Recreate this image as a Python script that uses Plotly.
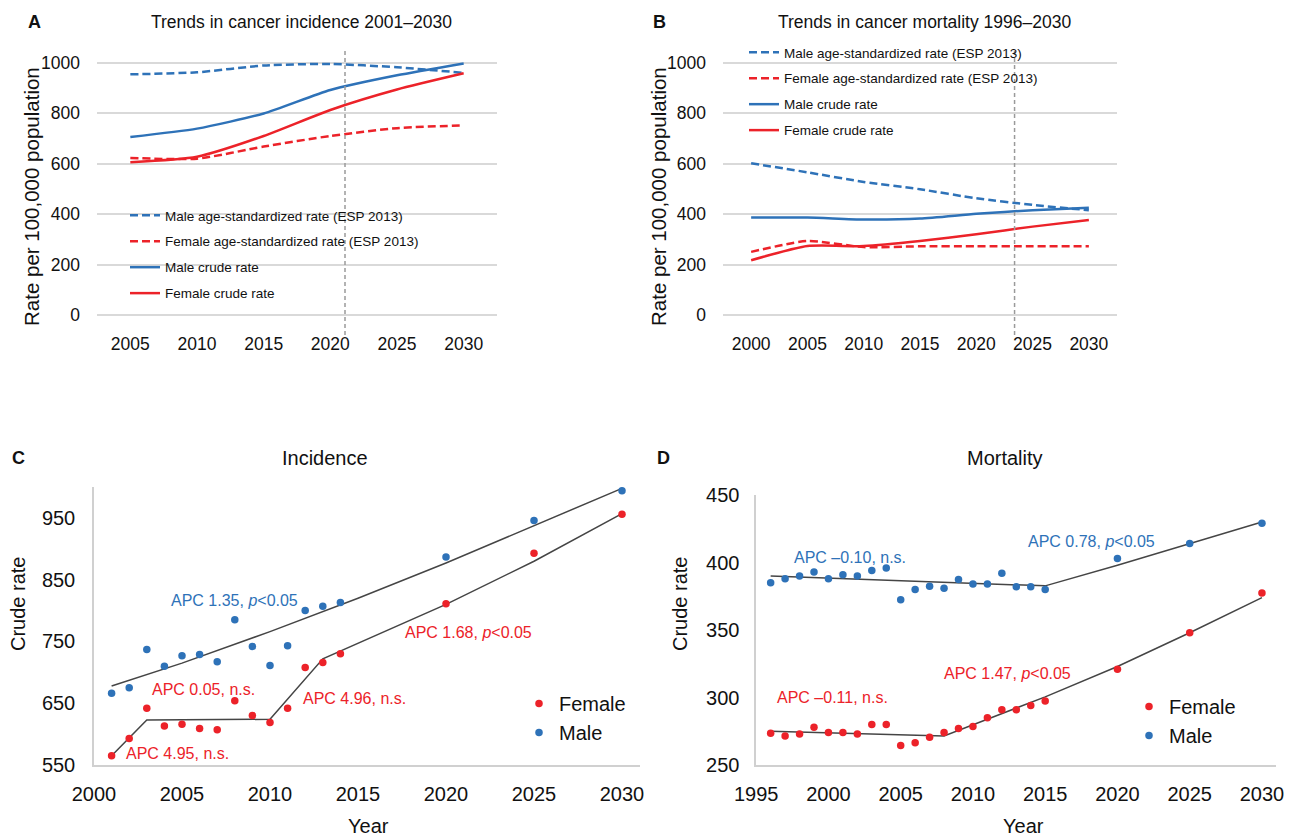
import plotly.graph_objects as go

# ---------------- Data ----------------
# Panel A: trends in cancer incidence (rate per 100,000)
years_a = [2005, 2010, 2015, 2020, 2025, 2030]
a_male_asr = [954, 962, 989, 995, 982, 960]
a_female_asr = [623, 620, 668, 710, 741, 752]
a_male_crude = [706, 739, 799, 892, 950, 997]
a_female_crude = [606, 628, 710, 813, 894, 958]
a_projection_year = 2021.1

# Panel B: trends in cancer mortality (rate per 100,000)
years_b = [2000, 2005, 2010, 2015, 2020, 2025, 2030]
b_male_asr = [602, 566, 528, 499, 463, 437, 416]
b_female_asr = [251, 294, 270, 273, 273, 273, 273]
b_male_crude = [387, 387, 379, 383, 402, 416, 426]
b_female_crude = [218, 274, 274, 294, 321, 351, 377]
b_projection_year = 2023.4

# Panel C: incidence crude rates
years_c = [2001, 2002, 2003, 2004, 2005, 2006, 2007, 2008, 2009, 2010,
           2011, 2012, 2013, 2014, 2020, 2025, 2030]
c_male = [666, 675, 737, 710, 727, 729, 717, 785, 742, 711,
          743, 800, 807, 813, 887, 946, 994]
c_female = [565, 593, 642, 613, 616, 609, 607, 654, 630, 619,
            642, 708, 716, 730, 811, 893, 956]
c_fit_male_years = [2001, 2005, 2010, 2015, 2020, 2025, 2030]
c_fit_male = [678, 715, 766, 820, 877, 938, 998]
c_fit_female_years = [2001, 2003, 2010, 2013, 2020, 2025, 2030]
c_fit_female = [565, 623, 624, 722, 810, 880, 957]

# Panel D: mortality crude rates
years_d = [1996, 1997, 1998, 1999, 2000, 2001, 2002, 2003, 2004, 2005,
           2006, 2007, 2008, 2009, 2010, 2011, 2012, 2013, 2014, 2015,
           2020, 2025, 2030]
d_male = [385, 388, 390, 393, 388, 391, 390, 394, 396, 372.5,
          380, 382.5, 381, 387.5, 384, 384, 392, 382, 382, 380,
          403, 414, 429]
d_female = [273.5, 271.5, 273, 278, 274, 274, 273, 280, 280, 264.5,
            266.5, 270.5, 274, 277, 278.5, 285, 291, 291, 294, 297.5,
            321, 348, 377.5]
d_fit_male_years = [1996, 2005, 2015, 2020, 2025, 2030]
d_fit_male = [390, 386.5, 382.7, 398, 414, 430]
d_fit_female_years = [1996, 2008, 2015, 2020, 2025, 2030]
d_fit_female = [275, 271.5, 300.5, 323, 348, 374]

# Annotations (text, x, y) in data units
c_apc = [
    ("APC 1.35, <i>p</i>&lt;0.05", 2008.0, 817, "male"),
    ("APC 0.05, n.s.", 2006.2, 673, "female"),
    ("APC 4.95, n.s.", 2004.75, 569, "female"),
    ("APC 4.96, n.s.", 2014.8, 658, "female"),
    ("APC 1.68, <i>p</i>&lt;0.05", 2021.3, 765, "female"),
]
d_apc = [
    ("APC \u20130.10, n.s.", 2001.5, 404, "male"),
    ("APC 0.78, <i>p</i>&lt;0.05", 2018.2, 415.5, "male"),
    ("APC \u20130.11, n.s.", 2000.25, 300, "female"),
    ("APC 1.47, <i>p</i>&lt;0.05", 2012.4, 318, "female"),
]

# ---------------- Style ----------------
BLUE = "#2E72B8"
RED = "#EC2229"
FIT = "#454545"
GRID = "#d9d9d9"
ARIAL = "Liberation Sans, Arial, sans-serif"
DASH = "8px,4px"
W, H = 1290, 837

fig = go.Figure()

def add_trend(x, y, color, dash, name, xa, ya, legend, group):
    fig.add_trace(go.Scatter(
        x=x, y=y, mode="lines", name=name,
        line=dict(color=color, width=2.5, dash=dash, shape="spline", smoothing=0.6),
        xaxis=xa, yaxis=ya, legend=legend, legendgroup=group, hoverinfo="skip"))

for xa, ya, lg, yrs, masr, fasr, mc, fc in [
        ("x", "y", "legend", years_a, a_male_asr, a_female_asr, a_male_crude, a_female_crude),
        ("x2", "y2", "legend2", years_b, b_male_asr, b_female_asr, b_male_crude, b_female_crude)]:
    add_trend(yrs, masr, BLUE, DASH, "Male age-standardized rate (ESP 2013)", xa, ya, lg, lg + "1")
    add_trend(yrs, fasr, RED, DASH, "Female age-standardized rate (ESP 2013)", xa, ya, lg, lg + "2")
    add_trend(yrs, mc, BLUE, "solid", "Male crude rate", xa, ya, lg, lg + "3")
    add_trend(yrs, fc, RED, "solid", "Female crude rate", xa, ya, lg, lg + "4")

# Panels C and D
for xa, ya, lg, yrs, m, f, fmy, fm, ffy, ff in [
        ("x3", "y3", "legend3", years_c, c_male, c_female,
         c_fit_male_years, c_fit_male, c_fit_female_years, c_fit_female),
        ("x4", "y4", "legend4", years_d, d_male, d_female,
         d_fit_male_years, d_fit_male, d_fit_female_years, d_fit_female)]:
    fig.add_trace(go.Scatter(x=fmy, y=fm, mode="lines", line=dict(color=FIT, width=1.5),
                             xaxis=xa, yaxis=ya, showlegend=False, hoverinfo="skip"))
    fig.add_trace(go.Scatter(x=ffy, y=ff, mode="lines", line=dict(color=FIT, width=1.5),
                             xaxis=xa, yaxis=ya, showlegend=False, hoverinfo="skip"))
    fig.add_trace(go.Scatter(x=yrs, y=f, mode="markers", name="Female",
                             marker=dict(color=RED, size=7.5),
                             xaxis=xa, yaxis=ya, legend=lg))
    fig.add_trace(go.Scatter(x=yrs, y=m, mode="markers", name="Male",
                             marker=dict(color=BLUE, size=7.5),
                             xaxis=xa, yaxis=ya, legend=lg))

def px_x(p):
    return p / W

def px_y(p):
    return 1 - p / H

tick_ab = dict(family=ARIAL, size=17.5, color="#111")
tick_cd = dict(family=ARIAL, size=20, color="#111")

axis_common_ab_x = dict(showgrid=False, zeroline=False, showline=False, ticks="",
                        tickfont=tick_ab, ticklabelstandoff=14, automargin=False)
axis_common_ab_y = dict(showgrid=True, gridcolor=GRID, gridwidth=1.5, zeroline=False,
                        showline=False, ticks="", tickfont=tick_ab, range=[-10, 1010],
                        tickvals=[0, 200, 400, 600, 800, 1000], ticklabelstandoff=16,
                        domain=[px_y(317.8), px_y(60.2)], automargin=False)

legend_ab = dict(xanchor="left", yanchor="top",
                 font=dict(family=ARIAL, size=13.5, color="#111"), bgcolor="rgba(0,0,0,0)",
                 traceorder="grouped", tracegroupgap=5.4, itemwidth=30)
legend_cd = dict(xanchor="left", yanchor="top",
                 font=dict(family=ARIAL, size=20, color="#111"), bgcolor="rgba(0,0,0,0)",
                 itemwidth=30)

fig.update_layout(
    width=W, height=H, autosize=False,
    margin=dict(l=0, r=0, t=0, b=0, autoexpand=False),
    paper_bgcolor="white", plot_bgcolor="white",
    font=dict(family=ARIAL, color="#111"),
    xaxis=dict(domain=[px_x(97), px_x(497)], range=[2002.5, 2032.5], tickvals=years_a,
               anchor="y", **axis_common_ab_x),
    yaxis=dict(anchor="x", **axis_common_ab_y),
    xaxis2=dict(domain=[px_x(723), px_x(1117)], range=[1997.5, 2032.5], tickvals=years_b,
                anchor="y2", **axis_common_ab_x),
    yaxis2=dict(anchor="x2", **axis_common_ab_y),
    xaxis3=dict(domain=[px_x(94), px_x(639.6)], range=[2000, 2031], tick0=2000, dtick=5,
                anchor="y3", showgrid=False, zeroline=False, showline=True,
                linecolor="#d0d0d0", linewidth=1.5, ticks="", tickfont=tick_cd,
                ticklabelstandoff=10, automargin=False),
    yaxis3=dict(domain=[px_y(765), px_y(487.1)], range=[550, 1000],
                tickvals=[550, 650, 750, 850, 950], anchor="x3", showgrid=False,
                zeroline=False, showline=True, linecolor="#d0d0d0", linewidth=1.5,
                ticks="", tickfont=tick_cd, ticklabelstandoff=13, automargin=False),
    xaxis4=dict(domain=[px_x(756.2), px_x(1276.4)], range=[1995, 2031], tick0=1995, dtick=5,
                anchor="y4", showgrid=False, zeroline=False, showline=True,
                linecolor="#d0d0d0", linewidth=1.5, ticks="", tickfont=tick_cd,
                ticklabelstandoff=10, automargin=False),
    yaxis4=dict(domain=[px_y(765), px_y(495)], range=[250, 450],
                tickvals=[250, 300, 350, 400, 450], anchor="x4", showgrid=False,
                zeroline=False, showline=True, linecolor="#d0d0d0", linewidth=1.5,
                ticks="", tickfont=tick_cd, ticklabelstandoff=11, automargin=False),
    legend=dict(x=px_x(125), y=px_y(200), **legend_ab),
    legend2=dict(x=px_x(744), y=px_y(37), **legend_ab),
    legend3=dict(x=px_x(519), y=px_y(684), **legend_cd),
    legend4=dict(x=px_x(1129), y=px_y(687), **legend_cd),
    showlegend=True,
)

# Projection start lines
for xref, yr in [("x", a_projection_year), ("x2", b_projection_year)]:
    fig.add_shape(type="line", xref=xref, yref="paper", x0=yr, x1=yr,
                  y0=px_y(335), y1=px_y(49),
                  line=dict(color="#9a9a9a", width=1.5, dash="4px,3px"))

ann = []
def text(t, x, y, size, family=ARIAL, color="#111", bold=False, angle=0,
         xref="paper", yref="paper", xanchor="center"):
    ann.append(dict(text=("<b>%s</b>" % t) if bold else t, x=x, y=y, xref=xref, yref=yref,
                    showarrow=False, textangle=angle, xanchor=xanchor, yanchor="middle",
                    font=dict(family=family, size=size, color=color)))

# panel letters
text("A", px_x(34), px_y(22), 18, bold=True)
text("B", px_x(659), px_y(22), 18, bold=True)
text("C", px_x(18), px_y(458), 18, bold=True)
text("D", px_x(663), px_y(458), 18, bold=True)
# titles
text("Trends in cancer incidence 2001\u20132030", px_x(301), px_y(22), 17.5)
text("Trends in cancer mortality 1996\u20132030", px_x(924), px_y(22), 17.5)
text("Incidence", px_x(325), px_y(458), 20)
text("Mortality", px_x(1005), px_y(458), 20)
# axis titles
text("Rate per 100,000 population", px_x(32), px_y(197), 20.5, angle=-90)
text("Rate per 100,000 population", px_x(659), px_y(197), 20.5, angle=-90)
text("Crude rate", px_x(18), px_y(604), 20, angle=-90)
text("Crude rate", px_x(680), px_y(604), 20, angle=-90)
text("Year", px_x(369), px_y(826), 20)
text("Year", px_x(1023), px_y(826), 20)
# APC labels
for t, x, y, who in c_apc:
    text(t, x, y, 16, color=BLUE if who == "male" else RED, xref="x3", yref="y3")
for t, x, y, who in d_apc:
    text(t, x, y, 16, color=BLUE if who == "male" else RED, xref="x4", yref="y4")

fig.update_layout(annotations=ann)

fig.write_html(
    "out.html",
    config={"displayModeBar": False},
    post_script="document.body.style.margin='0';document.body.style.overflow='hidden';",
)
